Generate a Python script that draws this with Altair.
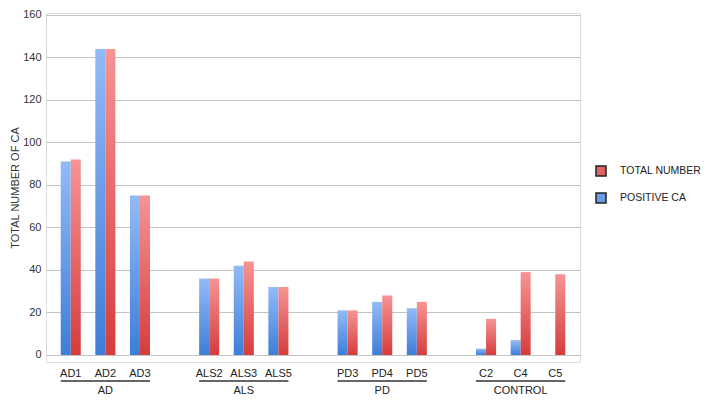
import altair as alt
import pandas as pd

# ---- data ----
categories = ["AD1", "AD2", "AD3", "ALS2", "ALS3", "ALS5", "PD3", "PD4", "PD5", "C2", "C4", "C5"]
groups = ["AD", "AD", "AD", "ALS", "ALS", "ALS", "PD", "PD", "PD", "CONTROL", "CONTROL", "CONTROL"]
positive_ca = [91, 144, 75, 36, 42, 32, 21, 25, 22, 3, 7, 0]
total_number = [92, 144, 75, 36, 44, 32, 21, 28, 25, 17, 39, 38]
series_names = ["TOTAL NUMBER", "POSITIVE CA"]
y_ticks = [0, 20, 40, 60, 80, 100, 120, 140, 160]

# ---- derived tables ----
group_order = []
for g in groups:
    if g not in group_order:
        group_order.append(g)

domain = []
for i, g in enumerate(group_order):
    if i > 0:
        domain.append(" " * i)  # empty spacer slot between groups
    domain += [c for c, gg in zip(categories, groups) if gg == g]

rows = []
for c, g, p, t in zip(categories, groups, positive_ca, total_number):
    rows.append({"cat": c, "group": g, "series": "POSITIVE CA", "value": p})
    rows.append({"cat": c, "group": g, "series": "TOTAL NUMBER", "value": t})
df = pd.DataFrame(rows)

grp_rows = []
for g in group_order:
    members = [c for c, gg in zip(categories, groups) if gg == g]
    grp_rows.append({"group": g, "first": members[0], "last": members[-1],
                     "mid": members[len(members) // 2]})
gdf = pd.DataFrame(grp_rows)

W, H = 534, 349
FONT = "Liberation Sans"

xscale = alt.Scale(domain=domain, paddingInner=0.42, paddingOuter=0.425)
xoff = alt.XOffset("series:N", scale=alt.Scale(domain=["POSITIVE CA", "TOTAL NUMBER"]))
yscale = alt.Scale(domain=[-3.3, 160.94], nice=False, zero=False)

xaxis = alt.Axis(title=None, labelAngle=0, ticks=False, domain=False, grid=False,
                 labelFontSize=11, labelColor="#222", labelPadding=5, labelFont=FONT)
yaxis = alt.Axis(title="TOTAL NUMBER OF CA", values=y_ticks, ticks=False,
                 domain=False, grid=True, gridColor="#c4c4c4", gridWidth=1,
                 labelFontSize=11, labelColor="#333", labelPadding=5,
                 titleFontSize=11, titleFontWeight="normal",
                 titleColor="#333", titlePadding=2, titleFont=FONT, labelFont=FONT)

base = alt.Chart(df)

legend_layer = base.mark_bar(opacity=0).encode(
    x=alt.X("cat:N", scale=xscale, sort=domain, axis=xaxis),
    xOffset=xoff,
    y=alt.Y("value:Q", scale=yscale, axis=yaxis),
    color=alt.Color("series:N",
                    scale=alt.Scale(domain=series_names, range=["#e06363", "#6a9de8"]),
                    legend=alt.Legend(title=None, orient="none", legendX=549, legendY=152,
                                      symbolType="square", symbolSize=100,
                                      symbolStrokeColor="#222", symbolStrokeWidth=1.5,
                                      symbolOpacity=1, labelFontSize=10.5,
                                      labelColor="#222", labelOffset=13,
                                      rowPadding=11, padding=0, labelFont=FONT)),
)

blue_grad = alt.Gradient(gradient="linear", x1=0, x2=0, y1=0, y2=1,
                         stops=[alt.GradientStop(color="#93baf7", offset=0),
                                alt.GradientStop(color="#3d7ed8", offset=1)])
red_grad = alt.Gradient(gradient="linear", x1=0, x2=0, y1=0, y2=1,
                        stops=[alt.GradientStop(color="#f79494", offset=0),
                               alt.GradientStop(color="#d63c3c", offset=1)])

def grad_layer(name, grad):
    return base.transform_filter(alt.datum.series == name).mark_bar(fill=grad).encode(
        x=alt.X("cat:N", scale=xscale, sort=domain, axis=xaxis),
        xOffset=xoff,
        y=alt.Y("value:Q", scale=yscale, axis=yaxis),
    )

blue_layer = grad_layer("POSITIVE CA", blue_grad)
red_layer = grad_layer("TOTAL NUMBER", red_grad)

underline = alt.Chart(gdf).mark_rule(color="#333", strokeWidth=1.6).encode(
    x=alt.X("first:N", scale=xscale, bandPosition=0, axis=xaxis),
    x2=alt.X2("last:N", bandPosition=1),
    y=alt.value(H + 19),
)

group_text = alt.Chart(gdf).mark_text(fontSize=11, color="#222", baseline="alphabetic",
                                      font=FONT).encode(
    x=alt.X("mid:N", scale=xscale, axis=xaxis),
    y=alt.value(H + 32),
    text="group:N",
)

chart = alt.layer(legend_layer, blue_layer, red_layer, underline, group_text).properties(
    width=W, height=H,
    autosize=alt.AutoSizeParams(type="none"),
    padding={"left": 38, "top": 5, "right": 121, "bottom": 33},
).configure_view(stroke="#c0c0c0", strokeWidth=1).configure(font=FONT)

chart.save("out.html", embed_options={"renderer": "svg", "actions": False})
